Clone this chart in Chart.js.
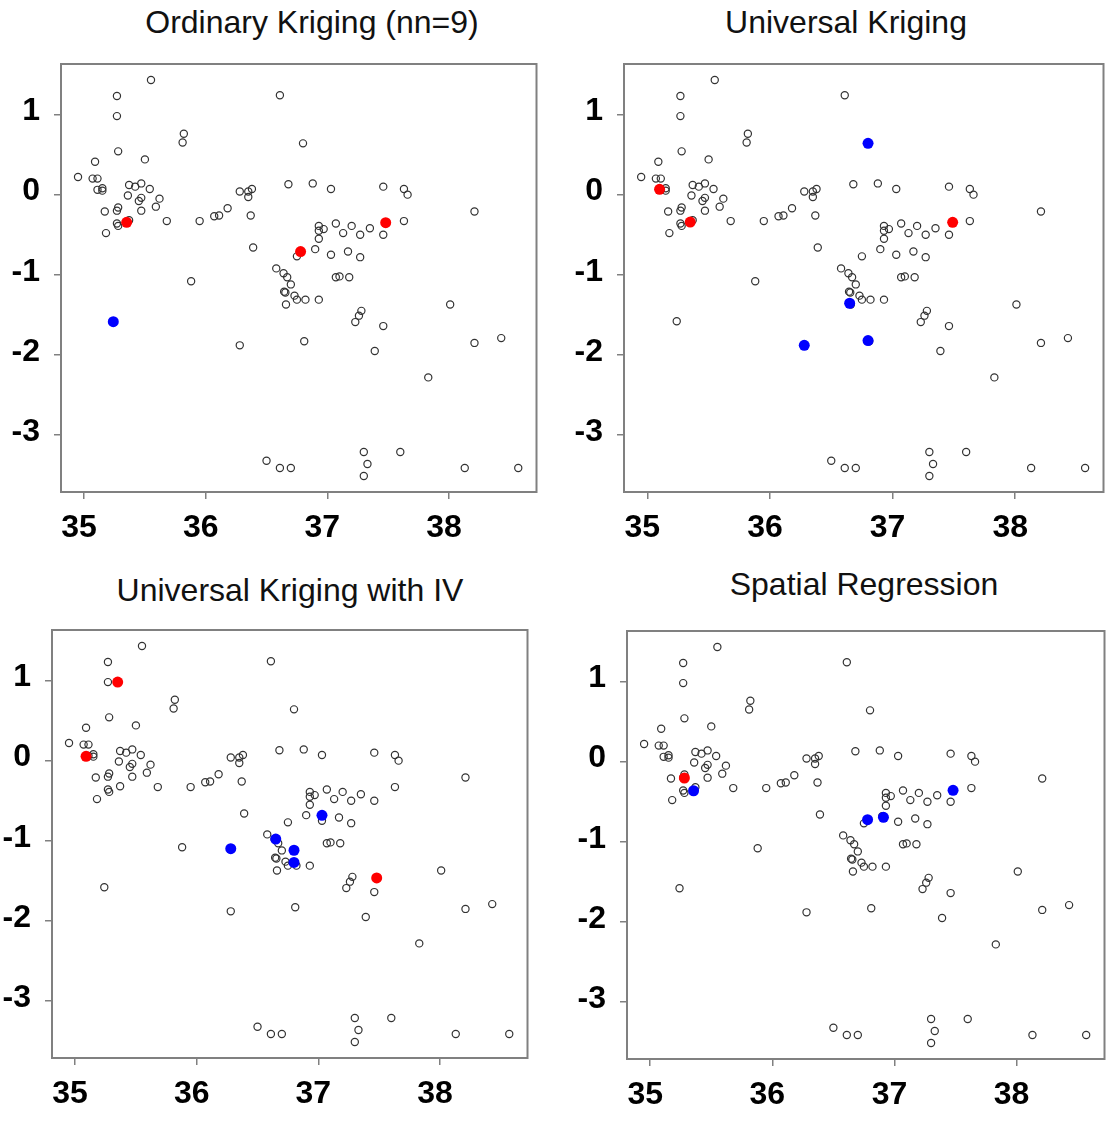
<!DOCTYPE html>
<html>
<head>
<meta charset="utf-8">
<script src="https://cdn.jsdelivr.net/npm/chart.js@4.4.1/dist/chart.umd.min.js"></script>
<style>
body{margin:0;background:#fff;width:1110px;height:1124px;position:relative;overflow:hidden;font-family:Arial,"Liberation Sans",sans-serif}
canvas{position:absolute}
.ttl{position:absolute;font-size:32px;color:#111;white-space:nowrap;transform:translate(-50%,-50%)}
</style>
</head>
<body>
<script>
// axis ticks
const xTicks = [35, 36, 37, 38];
const yTicks = [-3, -2, -1, 0, 1];

// sample sites (same in all four panels)
const siteX = [35.55, 35.27, 35.27, 35.82, 35.81, 36.61, 36.80, 35.28, 35.50, 35.09,
  34.95, 35.07, 35.11, 35.11, 35.15, 35.15, 35.37, 35.42, 35.47, 35.54,
  35.36, 35.47, 35.45, 35.62, 35.59, 35.28, 35.27, 35.17, 35.47, 35.27,
  35.28, 35.37, 35.18, 35.68, 35.95, 36.07, 36.11, 36.18, 36.28, 36.35,
  36.38, 36.35, 36.37, 36.39, 36.68, 36.58, 36.64, 36.67, 36.75, 35.88,
  36.88, 37.03, 37.46, 37.63, 37.66, 38.21, 37.63, 37.46, 37.35, 37.27,
  37.20, 37.13, 37.07, 36.93, 36.97, 36.93, 36.93, 36.90, 37.03, 37.17,
  37.27, 37.07, 37.10, 37.18, 36.70, 36.645, 36.655, 36.73, 36.75, 36.82,
  36.66, 36.81, 36.28, 36.50, 36.61, 36.70, 36.93, 37.28, 37.26, 37.23,
  37.46, 37.39, 38.01, 38.21, 38.43, 37.83, 37.30, 37.60, 37.33, 37.30,
  38.13, 38.57, 35.24];
const siteY = [1.43, 1.23, 0.98, 0.76, 0.65, 1.24, 0.64, 0.54, 0.44, 0.41,
  0.22, 0.20, 0.20, 0.06, 0.08, 0.05, 0.12, 0.10, 0.14, 0.07,
  -0.01, -0.04, -0.08, -0.05, -0.15, -0.16, -0.20, -0.21, -0.20, -0.36,
  -0.39, -0.32, -0.48, -0.33, -0.33, -0.27, -0.26, -0.17, 0.04, 0.04,
  0.07, -0.03, -0.26, -0.66, 0.13, -0.92, -0.98, -1.03, -0.77, -1.08,
  0.14, 0.07, 0.10, 0.07, 0.00, -0.21, -0.33, -0.50, -0.42, -0.50,
  -0.39, -0.48, -0.36, -0.39, -0.43, -0.45, -0.55, -0.68, -0.75, -0.71,
  -0.78, -1.03, -1.02, -1.03, -1.12, -1.21, -1.22, -1.26, -1.31, -1.31,
  -1.37, -1.83, -1.88, -3.32, -3.41, -3.41, -1.31, -1.45, -1.51, -1.59,
  -1.64, -1.95, -1.37, -1.85, -1.79, -2.28, -3.21, -3.21, -3.36, -3.51,
  -3.41, -3.41, -1.58];

// highlighted sites per method
const ordinaryRed = [[35.35, -0.345], [36.78, -0.71], [37.48, -0.35]];
const ordinaryBlue = [[35.24, -1.585]];
const universalRed = [[35.10, 0.066], [35.35, -0.342], [37.49, -0.345]];
const universalBlue = [[36.80, 0.64], [36.65, -1.355], [36.28, -1.88], [36.80, -1.82]];
const ivRed = [[35.35, 0.98], [35.09, 0.054], [37.48, -1.464]];
const ivBlue = [[36.28, -1.098], [36.65, -0.978], [36.80, -1.118], [36.80, -1.27], [37.03, -0.682]];
const spatialRed = [[35.28, -0.204]];
const spatialBlue = [[35.355, -0.363], [36.78, -0.724], [36.91, -0.695], [37.48, -0.358]];

const xMin = 34.81, xMax = 38.72, yMin = -3.71, yMax = 1.63;
const fontFam = 'Arial, "Liberation Sans", sans-serif';
// padTop must exceed half a y label + tick padding, otherwise chart.js pushes the area down
const yW = 60, xH = 72, padTop = 38, padRight = 4;

const panels = [
  {title: 'Ordinary Kriging (nn=9)', tx: 312, ty: 22, L: 61, T: 64, R: 538, B: 492, red: ordinaryRed, blue: ordinaryBlue},
  {title: 'Universal Kriging', tx: 846, ty: 22, L: 624, T: 64, R: 1105, B: 492, red: universalRed, blue: universalBlue},
  {title: 'Universal Kriging with IV', tx: 290, ty: 590, L: 52, T: 630, R: 529, B: 1058, red: ivRed, blue: ivBlue},
  {title: 'Spatial Regression', tx: 864, ty: 584, L: 627, T: 631, R: 1106, B: 1059, red: spatialRed, blue: spatialBlue}
];

const boxPlugin = {
  id: 'box',
  beforeDatasetsDraw(chart){
    const a = chart.chartArea, c = chart.ctx;
    c.save();
    c.strokeStyle = '#808080';
    c.lineWidth = 2;
    c.strokeRect(a.left, a.top, a.right - a.left, a.bottom - a.top);
    c.restore();
  }
};

function pairs(list){ return list.map(p => ({x: p[0], y: p[1]})); }

function axis(min, max, tickVals, fit, pad, shift){
  return {
    type: 'linear', min: min, max: max,
    afterBuildTicks: s => { s.ticks = tickVals.map(v => ({value: v})); },
    afterFit: fit,
    grid: {display: true, drawOnChartArea: false, drawTicks: true, tickLength: 7, color: '#808080', lineWidth: 1.5},
    border: {display: false},
    ticks: {color: '#000', font: {family: fontFam, size: 32, weight: 'bold'}, padding: pad, labelOffset: shift,
      maxRotation: 0, autoSkip: false}
  };
}

panels.forEach(p => {
  const t = document.createElement('div');
  t.className = 'ttl';
  t.textContent = p.title;
  t.style.left = p.tx + 'px';
  t.style.top = p.ty + 'px';
  document.body.appendChild(t);

  const cv = document.createElement('canvas');
  const w = yW + (p.R - p.L) + padRight;
  const h = padTop + (p.B - p.T) + xH;
  cv.width = w; cv.height = h;
  cv.style.width = w + 'px'; cv.style.height = h + 'px';
  cv.style.left = (p.L - yW) + 'px';
  cv.style.top = (p.T - padTop) + 'px';
  document.body.appendChild(cv);

  const sites = siteX.map((x, i) => ({x: x, y: siteY[i]}));
  new Chart(cv, {
    type: 'scatter',
    data: {
      datasets: [
        {data: pairs(p.red), pointRadius: 5.5, backgroundColor: '#ff0000', borderColor: '#ff0000', borderWidth: 0},
        {data: pairs(p.blue), pointRadius: 5.5, backgroundColor: '#0000ff', borderColor: '#0000ff', borderWidth: 0},
        {data: sites, pointRadius: 3.6, backgroundColor: 'rgba(0,0,0,0)', borderColor: '#333', borderWidth: 1.2}
      ]
    },
    options: {
      responsive: false,
      animation: false,
      devicePixelRatio: 1,
      layout: {padding: {top: padTop, right: padRight, left: 0, bottom: 0}},
      plugins: {legend: {display: false}, tooltip: {enabled: false}},
      scales: {
        x: axis(xMin, xMax, xTicks, s => { s.height = xH; }, 10, -5),
        y: axis(yMin, yMax, yTicks, s => { s.width = yW; }, 14, -3)
      }
    },
    plugins: [boxPlugin]
  });
});
</script>
</body>
</html>
